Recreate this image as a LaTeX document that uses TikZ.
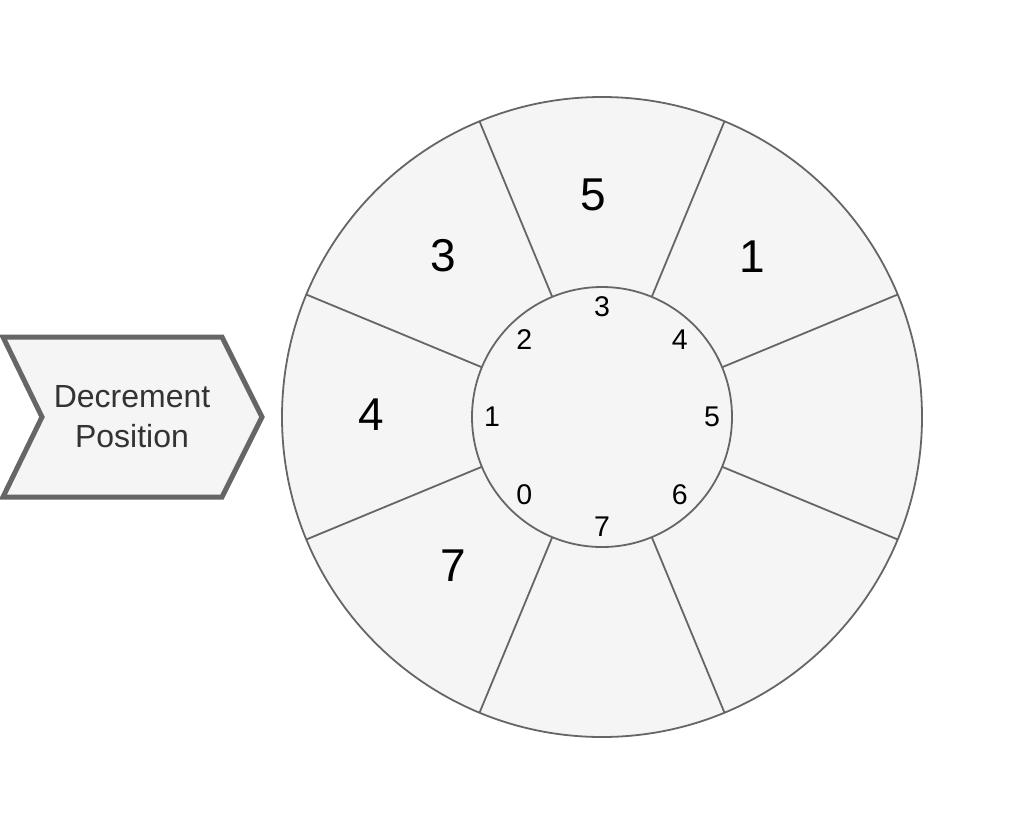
\documentclass[tikz,border=0pt]{standalone}
\usepackage{fontspec}
\setmainfont{Liberation Sans}
\usetikzlibrary{calc}
\definecolor{edge}{HTML}{666666}
\definecolor{fillg}{HTML}{F5F5F5}
\definecolor{txt}{HTML}{333333}
\begin{document}
\begin{tikzpicture}[x=1pt,y=-1pt,
  bigdigit/.style={font=\fontsize{46}{52}\selectfont, text=black, inner sep=0pt},
  smalldigit/.style={font=\fontsize{28.5}{32}\selectfont, text=black, inner sep=0pt},
  chevtext/.style={font=\fontsize{32}{40}\selectfont, text=txt, align=center, inner sep=0pt},
  ring/.style={draw=edge, fill=fillg, line width=1.8pt},
  divider/.style={draw=edge, line width=1.8pt},
  chev/.style={draw=edge, fill=fillg, line width=5pt, line join=miter}]
\useasboundingbox (0,0) rectangle (1022,836);
% chevron
\draw[chev] (3,337) -- (222,337) -- (262,417) -- (222,497) -- (3,497) -- (42,417) -- cycle;
\node[chevtext] (dec) at (132,417) {Decrement\\Position};
% outer ring
\coordinate (c) at (602,417);
\draw[ring] (c) circle[radius=320];
\foreach \k in {0,...,7} {
  \pgfmathsetmacro{\a}{22.5+45*\k}
  \coordinate (ci\k) at ($(c)+({130*cos(\a)},{-130*sin(\a)})$);
  \coordinate (co\k) at ($(c)+({320*cos(\a)},{-320*sin(\a)})$);
  \draw[divider] (ci\k) -- (co\k);
}
\draw[ring] (c) circle[radius=130];
% inner labels
\foreach \i in {0,...,7} {
  \pgfmathsetmacro{\b}{225-45*\i}
  \node[smalldigit] (s\i) at ($(c)+({110*cos(\b)},{-110*sin(\b)})$) {\i};
}
% sector labels
\node[bigdigit] (b5) at (593,195) {5};
\node[bigdigit] (b1) at (752,257) {1};
\node[bigdigit] (b3) at (443,256) {3};
\node[bigdigit] (b4) at (371,415) {4};
\node[bigdigit] (b7) at (453,566) {7};
\end{tikzpicture}
\end{document}
